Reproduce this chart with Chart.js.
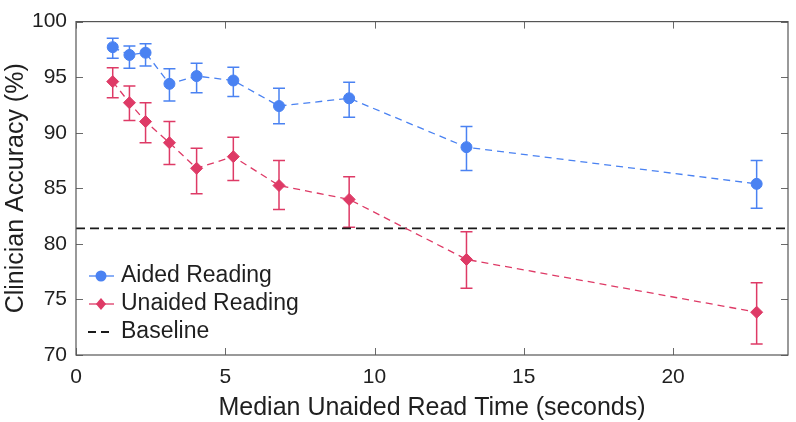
<!DOCTYPE html>
<html>
<head>
<meta charset="utf-8">
<script src="https://cdn.jsdelivr.net/npm/chart.js@4/dist/chart.umd.min.js"></script>
<style>
html,body{margin:0;padding:0;background:#ffffff;}
#wrap{width:796px;height:422px;}
</style>
</head>
<body>
<div id="wrap"><canvas id="c" width="796" height="422"></canvas></div>
<script>
// ---- data ----
const readTimes   = [1.23, 1.79, 2.33, 3.13, 4.04, 5.27, 6.80, 9.15, 13.08, 22.8];
const aidedAcc    = [97.7, 97.0, 97.2, 94.4, 95.1, 94.7, 92.4, 93.1, 88.7, 85.4];
const aidedLow    = [96.7, 95.8, 96.0, 92.85, 93.6, 93.25, 90.8, 91.4, 86.6, 83.2];
const aidedHigh   = [98.5, 97.8, 98.0, 95.75, 96.25, 95.9, 94.0, 94.55, 90.55, 87.5];
const unaidedAcc  = [94.6, 92.7, 91.0, 89.1, 86.8, 87.85, 85.25, 84.0, 78.6, 73.85];
const unaidedLow  = [93.15, 91.1, 89.1, 87.15, 84.5, 85.7, 83.1, 81.5, 76.0, 71.0];
const unaidedHigh = [95.85, 94.2, 92.7, 91.0, 88.6, 89.6, 87.5, 86.05, 81.1, 76.5];
const baselineAcc = 81.4;
const xTickValues = [0, 5, 10, 15, 20];
const yTickValues = [70, 75, 80, 85, 90, 95, 100];
const xRange = [0, 23.85];
const yRange = [70, 100];
const seriesNames = ['Aided Reading', 'Unaided Reading', 'Baseline'];

// ---- styles ----
const FONT = "'Liberation Sans', Arial, Helvetica, sans-serif";
const BLUE = '#4a82f2';
const RED = '#de3a66';
const TEXT = '#1f1f1f';

const pts = (vals) => readTimes.map((t, i) => ({x: t, y: vals[i]}));

const errorBars = [
  {low: aidedLow, high: aidedHigh, color: BLUE},
  {low: unaidedLow, high: unaidedHigh, color: RED}
];

const framePlugin = {
  id: 'frameAndBars',
  beforeDatasetsDraw(chart) {
    const {ctx, scales: {x, y}} = chart;
    ctx.save();
    errorBars.forEach(eb => {
      ctx.strokeStyle = eb.color;
      ctx.lineWidth = 1.5;
      readTimes.forEach((t, i) => {
        const px = x.getPixelForValue(t);
        const y1 = y.getPixelForValue(eb.low[i]);
        const y2 = y.getPixelForValue(eb.high[i]);
        ctx.beginPath();
        ctx.moveTo(px, y1); ctx.lineTo(px, y2);
        ctx.moveTo(px - 6, y1); ctx.lineTo(px + 6, y1);
        ctx.moveTo(px - 6, y2); ctx.lineTo(px + 6, y2);
        ctx.stroke();
      });
    });
    ctx.restore();
  },
  afterDraw(chart) {
    const {ctx, chartArea: a, scales: {x, y}} = chart;
    ctx.save();
    // ticks (inward, all four sides)
    ctx.strokeStyle = '#6a6a6a';
    ctx.lineWidth = 1;
    ctx.beginPath();
    xTickValues.forEach(v => {
      const px = Math.round(x.getPixelForValue(v)) + 0.5;
      ctx.moveTo(px, a.bottom); ctx.lineTo(px, a.bottom - 7);
      ctx.moveTo(px, a.top); ctx.lineTo(px, a.top + 7);
    });
    yTickValues.forEach(v => {
      const py = Math.round(y.getPixelForValue(v)) + 0.5;
      ctx.moveTo(a.left, py); ctx.lineTo(a.left + 7, py);
      ctx.moveTo(a.right, py); ctx.lineTo(a.right - 7, py);
    });
    ctx.stroke();
    // box
    ctx.strokeStyle = '#555555';
    ctx.lineWidth = 1.2;
    ctx.strokeRect(a.left, a.top, a.right - a.left, a.bottom - a.top);

    // legend
    const ds = chart.data.datasets;
    const rows = [276, 304, 332];
    ctx.font = '23px ' + FONT;
    ctx.textBaseline = 'middle';
    ctx.textAlign = 'left';
    ds.forEach((d, i) => {
      const yy = rows[i];
      ctx.strokeStyle = d.borderColor;
      ctx.lineWidth = d.borderWidth;
      ctx.setLineDash(i === 2 ? [8, 5] : []);
      ctx.beginPath();
      ctx.moveTo(i === 2 ? 88 : 89, yy); ctx.lineTo(114, yy);
      ctx.stroke();
      ctx.setLineDash([]);
      if (d.pointRadius > 0) {
        ctx.fillStyle = d.pointBackgroundColor;
        ctx.beginPath();
        if (d.pointStyle === 'circle') {
          ctx.arc(101, yy, d.pointRadius, 0, Math.PI * 2);
        } else {
          const r = d.pointRadius;
          ctx.moveTo(101, yy - r); ctx.lineTo(101 + r * 0.85, yy);
          ctx.lineTo(101, yy + r); ctx.lineTo(101 - r * 0.85, yy);
          ctx.closePath();
        }
        ctx.fill();
      }
      ctx.fillStyle = TEXT;
      ctx.fillText(d.label, 121, yy);
    });
    ctx.restore();
  }
};

new Chart(document.getElementById('c'), {
  type: 'scatter',
  data: {
    datasets: [
      {
        label: seriesNames[0],
        data: pts(aidedAcc),
        showLine: true,
        borderColor: BLUE,
        borderWidth: 1.3,
        borderDash: [7, 5],
        pointStyle: 'circle',
        pointRadius: 5.5,
        pointHoverRadius: 5.5,
        pointBackgroundColor: BLUE,
        pointBorderColor: BLUE,
        pointBorderWidth: 1
      },
      {
        label: seriesNames[1],
        data: pts(unaidedAcc),
        showLine: true,
        borderColor: RED,
        borderWidth: 1.3,
        borderDash: [7, 5],
        pointStyle: 'rectRot',
        pointRadius: 6,
        pointHoverRadius: 6,
        pointBackgroundColor: RED,
        pointBorderColor: RED,
        pointBorderWidth: 1
      },
      {
        label: seriesNames[2],
        data: [{x: xRange[0], y: baselineAcc}, {x: xRange[1], y: baselineAcc}],
        showLine: true,
        borderColor: '#1a1a1a',
        borderWidth: 1.8,
        borderDash: [9, 5],
        pointRadius: 0,
        pointHoverRadius: 0
      }
    ]
  },
  options: {
    responsive: false,
    animation: false,
    events: [],
    layout: {padding: {left: 0, top: 12, right: 8, bottom: 0}},
    plugins: {
      legend: {display: false},
      tooltip: {enabled: false}
    },
    scales: {
      x: {
        type: 'linear',
        min: xRange[0],
        max: xRange[1],
        afterBuildTicks: (s) => { s.ticks = xTickValues.map(v => ({value: v})); },
        afterFit: (s) => { s.height = 67; },
        grid: {display: false, drawTicks: false},
        border: {display: false},
        ticks: {
          font: {family: FONT, size: 21},
          color: TEXT,
          padding: 10,
          maxRotation: 0
        },
        title: {
          display: true,
          text: 'Median Unaided Read Time (seconds)',
          font: {family: FONT, size: 25, lineHeight: 1},
          color: TEXT,
          padding: {top: 0, bottom: 1}
        }
      },
      y: {
        type: 'linear',
        min: yRange[0],
        max: yRange[1],
        afterBuildTicks: (s) => { s.ticks = yTickValues.map(v => ({value: v})); },
        afterFit: (s) => { s.width = 76; },
        grid: {display: false, drawTicks: false},
        border: {display: false},
        ticks: {
          font: {family: FONT, size: 21},
          color: TEXT,
          padding: 9
        },
        title: {
          display: true,
          text: 'Clinician Accuracy (%)',
          font: {family: FONT, size: 25, lineHeight: 1},
          color: TEXT,
          padding: {top: 4, bottom: 0}
        }
      }
    }
  },
  plugins: [framePlugin]
});
</script>
</body>
</html>
